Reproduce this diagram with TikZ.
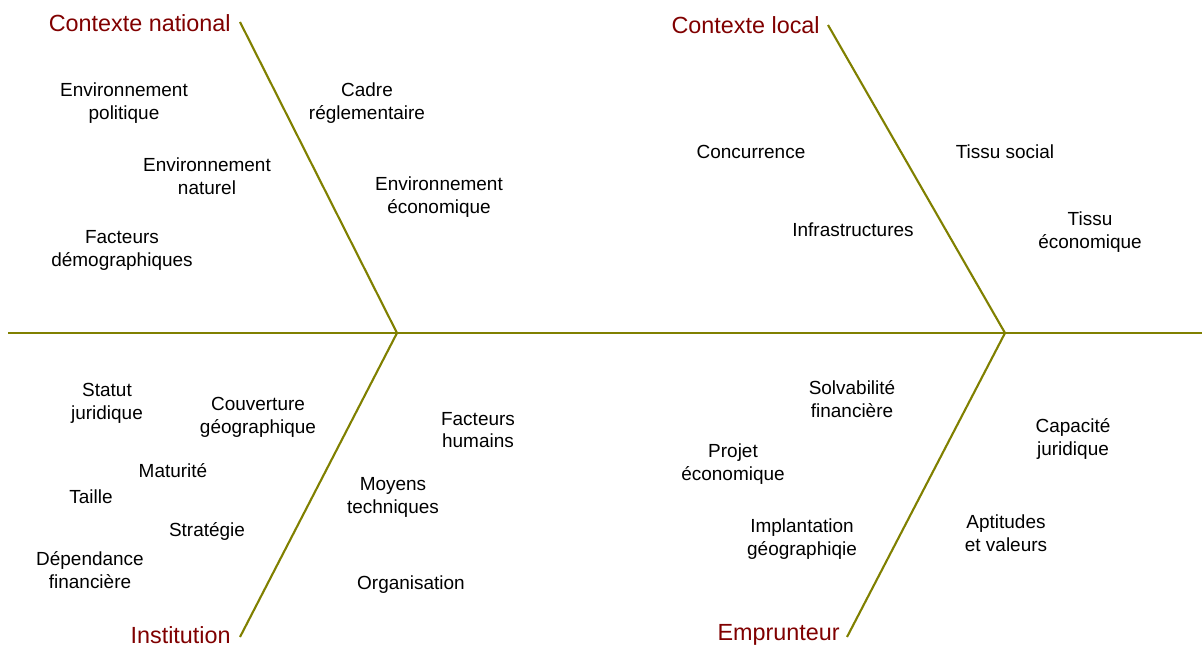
\documentclass[tikz,border=0pt]{standalone}
\usepackage{fontspec}
\setmainfont{Liberation Sans}
\usepackage{xcolor}
\usepackage{tikz}
\definecolor{bonecol}{HTML}{808000}
\definecolor{titlecol}{HTML}{800000}
\tikzset{
  bone/.style={draw=bonecol, line width=1.2pt},
  cause/.style={align=center, font=\fontsize{10.8}{13}\selectfont, inner sep=0pt, yshift=-1.2pt},
  title/.style={text=titlecol, font=\fontsize{13.3}{16}\selectfont, inner sep=0pt}
}
\begin{document}
\begin{tikzpicture}[x=0.02cm,y=-0.02cm]
\useasboundingbox (0,0) rectangle (1202,648);
  % spine and bones
  \coordinate (tail) at (8,333);
  \coordinate (head) at (1202,333);
  \coordinate (jA) at (397,333);
  \coordinate (jB) at (1005,333);
  \coordinate (natEnd) at (240,22);
  \coordinate (locEnd) at (828,25);
  \coordinate (insEnd) at (240,637);
  \coordinate (empEnd) at (847,637);
  \draw[bone] (tail) -- (head);
  \draw[bone] (natEnd) -- (jA) -- (insEnd);
  \draw[bone] (locEnd) -- (jB) -- (empEnd);
  % titles
  \node[title, anchor=east] (national) at (231,23) {Contexte national};
  \node[title, anchor=east] (local) at (820,25) {Contexte local};
  \node[title, anchor=east] (institution) at (231,635) {Institution};
  \node[title, anchor=east] (emprunteur) at (840,635) {Emprunteur};
  % contexte national
  \node[cause] (politique) at (124,101) {Environnement\\politique};
  \node[cause] (cadre) at (367,101) {Cadre\\réglementaire};
  \node[cause] (naturel) at (207,174) {Environnement\\naturel};
  \node[cause] (economique) at (439,195) {Environnement\\économique};
  \node[cause] (demo) at (122,248) {Facteurs\\démographiques};
  % contexte local
  \node[cause] (concurrence) at (751,150) {Concurrence};
  \node[cause] (social) at (1005,150) {Tissu social};
  \node[cause] (infra) at (853,228) {Infrastructures};
  \node[cause] (tissueco) at (1090,230) {Tissu\\économique};
  % institution
  \node[cause] (statut) at (107,401) {Statut\\juridique};
  \node[cause] (couverture) at (258,415) {Couverture\\géographique};
  \node[cause] (humains) at (478,428) {Facteurs\\humains};
  \node[cause] (maturite) at (173,468) {Maturité};
  \node[cause] (taille) at (91,495) {Taille};
  \node[cause] (moyens) at (393,495) {Moyens\\techniques};
  \node[cause] (strategie) at (207,529) {Stratégie};
  \node[cause] (dependance) at (90,568) {Dépendance\\financière};
  \node[cause] (organisation) at (411,582) {Organisation};
  % emprunteur
  \node[cause] (solva) at (852,397) {Solvabilité\\financière};
  \node[cause] (projet) at (733,462) {Projet\\économique};
  \node[cause] (capacite) at (1073,437) {Capacité\\juridique};
  \node[cause] (implant) at (802,537) {Implantation\\géographiqie};
  \node[cause] (aptitudes) at (1006,531) {Aptitudes\\et valeurs};
\end{tikzpicture}
\end{document}
